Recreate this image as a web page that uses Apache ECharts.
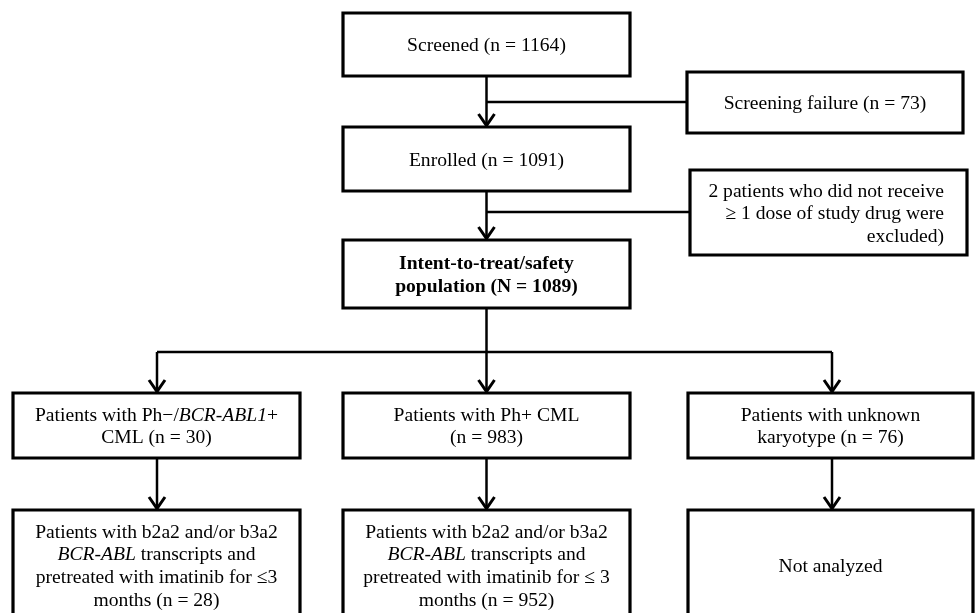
<!DOCTYPE html>
<html>
<head>
<meta charset="utf-8">
<script src="https://cdn.jsdelivr.net/npm/echarts@6/dist/echarts.min.js"></script>
<style>
  html, body { margin: 0; padding: 0; background: #fff; }
  #chart { width: 975px; height: 613px; }
</style>
</head>
<body>
<div id="chart"></div>
<script>
// ---- Data ----
const stageCounts = [1164, 73, 1091, 2, 1089, 30, 983, 76, 28, 952, null];
const stageLabels = [
  'Screened (n = #)',
  'Screening failure (n = #)',
  'Enrolled (n = #)',
  '# patients who did not receive\n≥ 1 dose of study drug were\nexcluded)',
  '{b|Intent-to-treat/safety}\n{b|population (N = #)}',
  'Patients with Ph−/{i|BCR-ABL1}+\nCML (n = #)',
  'Patients with Ph+ CML\n(n = #)',
  'Patients with unknown\nkaryotype (n = #)',
  'Patients with b2a2 and/or b3a2\n{i|BCR-ABL} transcripts and\npretreated with imatinib for ≤3\nmonths (n = #)',
  'Patients with b2a2 and/or b3a2\n{i|BCR-ABL} transcripts and\npretreated with imatinib for ≤ 3\nmonths (n = #)',
  'Not analyzed'
];

// ---- Layout (diagram coordinates: x0, y0, x1, y1) ----
const boxLayout = [
  [343, 13, 630, 76],
  [687, 72, 963, 133],
  [343, 127, 630, 191],
  [690, 170, 967, 255],
  [343, 240, 630, 308],
  [13, 393, 300, 458],
  [343, 393, 630, 458],
  [688, 393, 973, 458],
  [13, 510, 300, 620],
  [343, 510, 630, 620],
  [688, 510, 973, 620]
];
const boxAlign = ['center','center','center','right','center','center','center','center','center','center','center'];
// connectors: x1, y1, x2, y2, arrow(1/0)
const connectors = [
  [486.5, 76, 486.5, 127, 1],
  [486.5, 102, 687, 102, 0],
  [486.5, 191, 486.5, 240, 1],
  [486.5, 212, 690, 212, 0],
  [486.5, 308, 486.5, 352, 0],
  [157, 352, 832, 352, 0],
  [157, 352, 157, 393, 1],
  [486.5, 352, 486.5, 393, 1],
  [832, 352, 832, 393, 1],
  [157, 458, 157, 510, 1],
  [486.5, 458, 486.5, 510, 1],
  [832, 458, 832, 510, 1]
];

const FONT_FAMILY = '"Liberation Serif", "Times New Roman", serif';
const FS = 19.6;
const LH = 22.6;

function labelText(i) {
  const c = stageCounts[i];
  return c == null ? stageLabels[i] : stageLabels[i].replace('#', String(c));
}

const chart = echarts.init(document.getElementById('chart'), null, { renderer: 'canvas' });

const option = {
  backgroundColor: '#ffffff',
  animation: false,
  grid: { left: 0, right: 0, top: 0, bottom: 0 },
  xAxis: { type: 'value', min: 0, max: 975, show: false },
  yAxis: { type: 'value', min: 0, max: 613, inverse: true, show: false },
  series: [
    {
      type: 'custom',
      name: 'connectors',
      coordinateSystem: 'cartesian2d',
      z: 1,
      silent: true,
      data: connectors.map((c, i) => [i]),
      renderItem: function (params, api) {
        const c = connectors[api.value(0)];
        const p1 = api.coord([c[0], c[1]]);
        const p2 = api.coord([c[2], c[3]]);
        const children = [{
          type: 'polyline',
          shape: { points: [p1, p2] },
          style: { stroke: '#000', lineWidth: 2.5, fill: null }
        }];
        if (c[4]) {
          children.push({
            type: 'polyline',
            shape: { points: [[p2[0] - 8, p2[1] - 13], [p2[0], p2[1] - 1.5], [p2[0] + 8, p2[1] - 13]] },
            style: { stroke: '#000', lineWidth: 3, fill: null, lineJoin: 'miter' }
          });
        }
        return { type: 'group', children: children };
      }
    },
    {
      type: 'custom',
      name: 'boxes',
      coordinateSystem: 'cartesian2d',
      z: 2,
      silent: true,
      data: boxLayout.map((b, i) => [i]),
      renderItem: function (params, api) {
        const i = api.value(0);
        const b = boxLayout[i];
        const p0 = api.coord([b[0], b[1]]);
        const p1 = api.coord([b[2], b[3]]);
        const align = boxAlign[i];
        const tx = align === 'right' ? p1[0] - 23 : (p0[0] + p1[0]) / 2;
        const ty = (p0[1] + p1[1]) / 2 + 1.5;
        return {
          type: 'group',
          children: [
            {
              type: 'rect',
              shape: { x: p0[0], y: p0[1], width: p1[0] - p0[0], height: p1[1] - p0[1] },
              style: { fill: '#fff', stroke: '#000', lineWidth: 3.2 }
            },
            {
              type: 'text',
              style: {
                text: labelText(i),
                x: tx,
                y: ty,
                align: align,
                verticalAlign: 'middle',
                fontFamily: FONT_FAMILY,
                fontSize: FS,
                lineHeight: LH,
                fill: '#000',
                rich: {
                  i: { fontFamily: FONT_FAMILY, fontSize: FS, fontStyle: 'italic', lineHeight: LH, fill: '#000' },
                  b: { fontFamily: FONT_FAMILY, fontSize: FS, fontWeight: 'bold', lineHeight: LH, fill: '#000' }
                }
              }
            }
          ]
        };
      }
    }
  ]
};

chart.setOption(option);
</script>
</body>
</html>
